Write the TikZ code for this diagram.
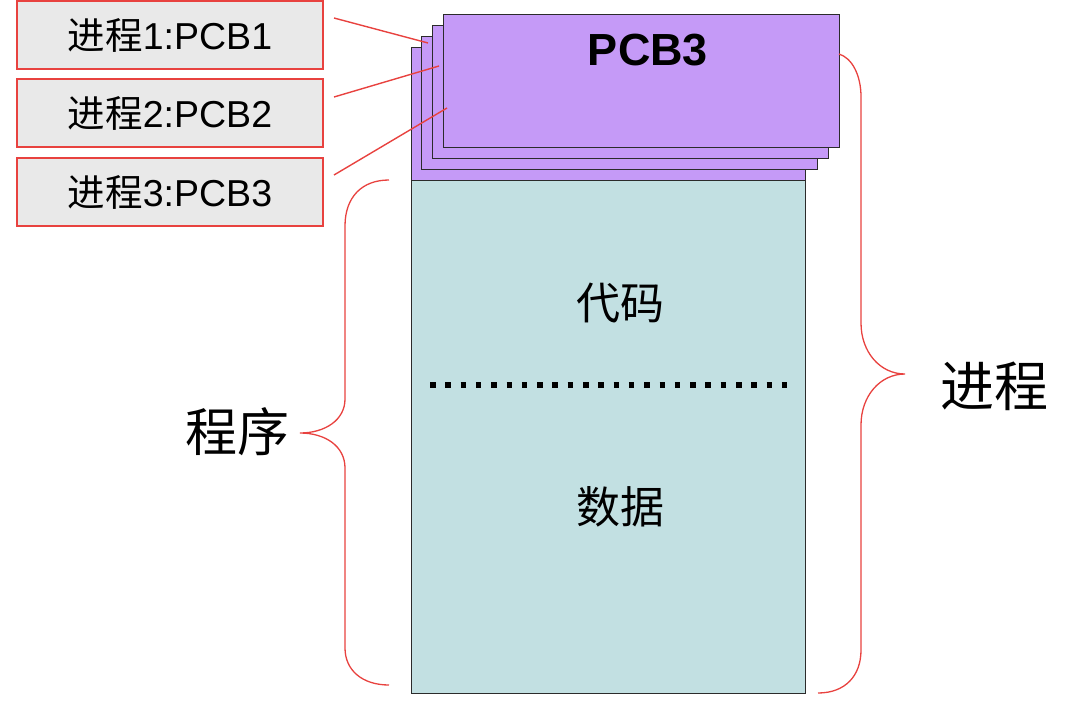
\documentclass[tikz,border=0pt]{standalone}
\usepackage{fontspec}
\setmainfont{Liberation Sans}
\newfontfamily\cjk{Noto Sans CJK SC}
\definecolor{lblfill}{HTML}{E9E9E9}
\definecolor{lblred}{HTML}{E8423F}
\definecolor{pcbfill}{HTML}{C59AF7}
\definecolor{bodyfill}{HTML}{C2E0E2}
\definecolor{edge}{HTML}{2B2B2B}
\tikzset{
  lbl/.style={draw=lblred, line width=1.5pt, fill=lblfill, minimum width=306pt, minimum height=68pt, inner sep=0pt, font=\fontsize{37.5}{37.5}\selectfont},
  pcbbox/.style={draw=edge, line width=1.3pt, fill=pcbfill, inner sep=0pt},
  link/.style={draw=lblred, line width=1.4pt},
  brace/.style={draw=lblred, line width=1.3pt},
}
\begin{document}
\begin{tikzpicture}[x=1pt,y=-1pt]
\useasboundingbox (0,0) rectangle (1073,725);
% label boxes
\node[lbl] (b1) at (170,35) {{\cjk 进程}1:PCB1};
\node[lbl] (b2) at (170,113) {{\cjk 进程}2:PCB2};
\node[lbl] (b3) at (170,192) {{\cjk 进程}3:PCB3};
% body
\node[pcbbox, fill=bodyfill, minimum width=394pt, minimum height=513pt, anchor=north west] (body) at (411,180) {};
% PCB stack
\node[pcbbox, minimum width=394pt, minimum height=133pt, anchor=north west] (p1) at (411,47) {};
\node[pcbbox, minimum width=396pt, minimum height=133pt, anchor=north west] (p2) at (421,36) {};
\node[pcbbox, minimum width=396pt, minimum height=133pt, anchor=north west] (p3) at (432,25) {};
\node[pcbbox, minimum width=396pt, minimum height=133pt, anchor=north west] (p4) at (443,14) {};
\node[font=\bfseries\fontsize{45}{45}\selectfont] (pcbt) at (648,50) {PCB3};
% connectors
\coordinate (s1) at (334,18); \coordinate (e1) at (428,43);
\coordinate (s2) at (334,97); \coordinate (e2) at (439,66);
\coordinate (s3) at (334,175); \coordinate (e3) at (447,108);
\draw[link] (s1) -- (e1);
\draw[link] (s2) -- (e2);
\draw[link] (s3) -- (e3);
% body contents
\node[font=\cjk\fontsize{44}{44}\selectfont] (code) at (620,303) {代码};
\coordinate (d1) at (430,385); \coordinate (d2) at (788,385);
\draw[line width=5.5pt, dash pattern=on 5.5pt off 9.8pt] (d1) -- (d2);
\node[font=\cjk\fontsize{44}{44}\selectfont] (data) at (620,507) {数据};
% left brace
\coordinate (lt) at (389,180); \coordinate (lb) at (389,685); \coordinate (ltip) at (300,433);
\draw[brace] (lt) .. controls (362,180) and (345,197) .. (345,226) -- (345,399)
  .. controls (345,420) and (325,433) .. (ltip)
  .. controls (325,433) and (345,446) .. (345,468) -- (345,648)
  .. controls (345,670) and (362,685) .. (lb);
\node[font=\cjk\fontsize{52}{52}\selectfont] (prog) at (237,432) {程序};
% right brace
\coordinate (rt) at (839,54); \coordinate (rb) at (818,693); \coordinate (rtip) at (905,374);
\draw[brace] (rt) .. controls (852,58) and (861,75) .. (861,97) -- (861,323)
  .. controls (861,352) and (880,374) .. (rtip)
  .. controls (880,374) and (861,396) .. (861,425) -- (861,650)
  .. controls (861,676) and (845,693) .. (rb);
\node[font=\cjk\fontsize{54}{54}\selectfont] (proc) at (994,386) {进程};
\end{tikzpicture}
\end{document}
